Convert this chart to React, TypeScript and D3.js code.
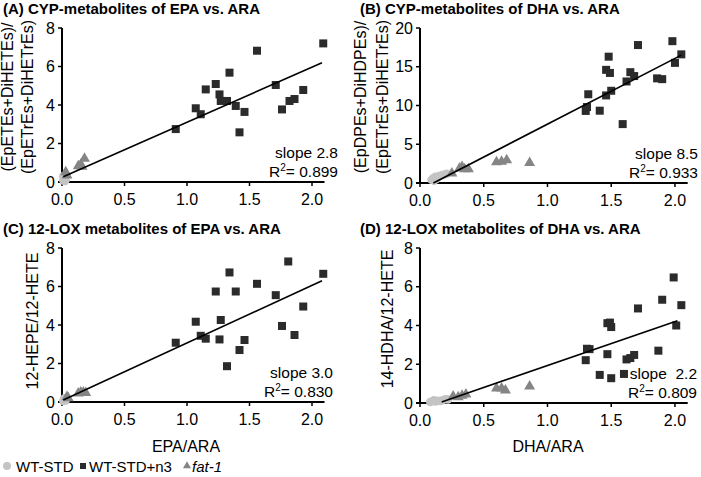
import React from "react";
import * as d3 from "d3";

type P = [number, number];

// ---------- data ----------
const xTicks = [0, 0.5, 1.0, 1.5, 2.0];
const yTicksA = [0, 2, 4, 6, 8];
const yTicksB = [0, 5, 10, 15, 20];
const yTicksC = [0, 2, 4, 6, 8];
const yTicksD = [0, 2, 4, 6, 8];

const A_std: P[] = [[0.01, 0.08], [0.02, 0.15], [0.015, 0.22], [0.025, 0.05], [0.01, 0.3], [0.03, 0.12]];
const A_n3: P[] = [[0.91, 2.75], [1.07, 3.83], [1.11, 3.52], [1.15, 4.81], [1.23, 5.09], [1.26, 4.55], [1.27, 4.21], [1.32, 4.21], [1.34, 5.68], [1.39, 3.95], [1.42, 2.58], [1.46, 3.64], [1.56, 6.82], [1.71, 5.04], [1.76, 3.77], [1.82, 4.21], [1.86, 4.31], [1.93, 4.78], [2.09, 7.2]];
const A_fat1: P[] = [[0.03, 0.52], [0.04, 0.35], [0.13, 0.83], [0.15, 0.9], [0.16, 0.8], [0.18, 1.22]];
const A_fit: P[] = [[0.01, 0.27], [2.08, 6.2]];

const B_std: P[] = [[0.09, 0.4], [0.1, 0.6], [0.11, 0.3], [0.12, 0.8], [0.13, 0.5], [0.14, 0.7], [0.15, 0.9], [0.17, 1.0], [0.19, 1.1], [0.21, 1.2]];
const B_n3: P[] = [[1.3, 9.3], [1.31, 9.8], [1.32, 11.45], [1.41, 9.33], [1.46, 14.6], [1.48, 16.3], [1.49, 14.2], [1.46, 11.3], [1.5, 11.9], [1.59, 7.6], [1.62, 13.1], [1.65, 14.3], [1.68, 13.8], [1.71, 17.8], [1.86, 13.5], [1.9, 13.4], [1.98, 18.3], [2.0, 15.5], [2.05, 16.6]];
const B_fat1: P[] = [[0.25, 1.25], [0.31, 1.9], [0.33, 2.1], [0.35, 1.8], [0.38, 1.8], [0.6, 2.7], [0.64, 2.75], [0.68, 2.96], [0.86, 2.6]];
const B_fit: P[] = [[0.105, 0], [2.05, 16.5]];

const C_std: P[] = [[0.01, 0.05], [0.02, 0.1], [0.015, 0.15], [0.03, 0.08], [0.02, 0.2]];
const C_n3: P[] = [[0.91, 3.08], [1.07, 4.17], [1.11, 3.44], [1.15, 3.29], [1.23, 5.74], [1.26, 3.25], [1.27, 4.26], [1.32, 1.86], [1.34, 6.73], [1.39, 5.74], [1.42, 2.7], [1.46, 3.22], [1.56, 6.14], [1.71, 5.55], [1.76, 3.95], [1.81, 7.3], [1.86, 3.48], [1.93, 4.96], [2.09, 6.66]];
const C_fat1: P[] = [[0.04, 0.27], [0.05, 0.2], [0.13, 0.45], [0.15, 0.5], [0.17, 0.5], [0.19, 0.48]];
const C_fit: P[] = [[0.01, 0.1], [2.08, 6.3]];

const D_std: P[] = [[0.08, 0.05], [0.1, 0.1], [0.11, 0.15], [0.12, 0.08], [0.14, 0.12], [0.16, 0.1], [0.18, 0.15], [0.2, 0.2], [0.22, 0.18]];
const D_n3: P[] = [[1.3, 2.21], [1.31, 2.8], [1.33, 2.78], [1.41, 1.45], [1.47, 4.12], [1.49, 4.15], [1.5, 3.92], [1.47, 2.52], [1.5, 1.28], [1.6, 1.5], [1.62, 2.25], [1.65, 2.32], [1.68, 2.48], [1.71, 4.88], [1.87, 2.7], [1.9, 5.33], [1.99, 6.48], [2.01, 4.0], [2.05, 5.05]];
const D_fat1: P[] = [[0.26, 0.35], [0.3, 0.3], [0.33, 0.38], [0.36, 0.45], [0.6, 0.76], [0.64, 0.76], [0.67, 0.66], [0.86, 0.86]];
const D_fit: P[] = [[0.17, 0.05], [2.02, 4.25]];

const legendLabels = ["WT-STD", "WT-STD+n3", "fat-1"];

// ---------- styles ----------
const FONT = "Liberation Sans, Arial, Helvetica, sans-serif";
const C_STD = "#c4c4c4";
const C_N3 = "#2b2b2b";
const C_FAT = "#858585";

interface PanelProps {
  title: string;
  left: number;
  right: number;
  top: number;
  bottom: number;
  yMax: number;
  yTicks: number[];
  yLabel: string[];
  yLabelX: number[];
  yLabelCY: number;
  std: P[];
  n3: P[];
  fat1: P[];
  fit: P[];
  slope: string;
  r2: string;
  statX: number;
  titleY: number;
}

const tri = d3.symbol(d3.symbolTriangle, 52)() as string;

function Panel(p: PanelProps) {
  const x = d3.scaleLinear().domain([0, 2.1]).range([p.left, p.right]);
  const y = d3.scaleLinear().domain([0, p.yMax]).range([p.bottom, p.top]);
  const line = d3.line<P>().x((d) => x(d[0])).y((d) => y(d[1]));
  return (
    <g fontFamily={FONT}>
      <text x={p.left - (p.left > 300 ? 60 : 59)} y={p.titleY} fontSize={15} fontWeight="bold">
        {p.title}
      </text>
      {/* axes */}
      <line x1={x(0)} x2={x(0)} y1={y(p.yMax)} y2={y(0)} stroke="#000" strokeWidth={2} />
      <line x1={x(0) - 4} x2={x(2.1)} y1={y(0)} y2={y(0)} stroke="#000" strokeWidth={2} />
      {p.yTicks.map((t) => (
        <g key={"y" + t}>
          <line x1={x(0) - 4} x2={x(0)} y1={y(t)} y2={y(t)} stroke="#000" strokeWidth={1.5} />
          <text x={x(0) - 7} y={y(t) + 5.5} fontSize={16} textAnchor="end">
            {t}
          </text>
        </g>
      ))}
      {xTicks.map((t) => (
        <g key={"x" + t}>
          <line x1={x(t)} x2={x(t)} y1={y(0)} y2={y(0) + 4} stroke="#000" strokeWidth={1.5} />
          <text x={x(t)} y={y(0) + 23} fontSize={16} textAnchor="middle">
            {d3.format(".1f")(t)}
          </text>
        </g>
      ))}
      {p.yLabel.map((s, i) => (
        <text
          key={s}
          transform={`translate(${p.yLabelX[i]},${p.yLabelCY}) rotate(-90)`}
          fontSize={16}
          textAnchor="middle"
        >
          {s}
        </text>
      ))}
      {/* points */}
      {p.std.map((d, i) => (
        <circle key={"s" + i} cx={x(d[0])} cy={y(d[1])} r={4.2} fill={C_STD} />
      ))}
      {p.fat1.map((d, i) => (
        <path key={"f" + i} d={tri} transform={`translate(${x(d[0])},${y(d[1])})`} fill={C_FAT} />
      ))}
      {p.n3.map((d, i) => (
        <rect key={"n" + i} x={x(d[0]) - 4} y={y(d[1]) - 4} width={8} height={8} fill={C_N3} />
      ))}
      <path d={line(p.fit) as string} stroke="#000" strokeWidth={1.6} fill="none" />
      <text x={p.statX} y={p.bottom - 24} fontSize={15.5} textAnchor="end" style={{ whiteSpace: "pre" }}>
        {p.slope}
      </text>
      <text x={p.statX} y={p.bottom - 5} fontSize={15.5} textAnchor="end">
        R<tspan fontSize={10} dy={-6}>2</tspan>
        <tspan dy={6}>= {p.r2}</tspan>
      </text>
    </g>
  );
}

export default function App() {
  return (
    <svg
      width={701}
      height={477}
      viewBox="0 0 701 477"
      style={{ position: "absolute", left: 0, top: 0, background: "#fff" }}
    >
      <rect width={701} height={477} fill="#fff" />
      <Panel
        title="(A) CYP-metabolites of EPA vs. ARA"
        left={62} right={324.5} top={28} bottom={182}
        yMax={8} yTicks={yTicksA}
        yLabel={["(EpETEs+DiHETEs)/", "(EpETrEs+DiHETrEs)"]}
        yLabelX={[13, 33]} yLabelCY={97}
        std={A_std} n3={A_n3} fat1={A_fat1} fit={A_fit}
        slope="slope 2.8" r2="0.899" statX={338} titleY={14}
      />
      <Panel
        title="(B) CYP-metabolites of DHA vs. ARA"
        left={420} right={687.7} top={28} bottom={183}
        yMax={20} yTicks={yTicksB}
        yLabel={["(EpDPEs+DiHDPEs)/", "(EpETrEs+DiHETrEs)"]}
        yLabelX={[366, 388]} yLabelCY={97}
        std={B_std} n3={B_n3} fat1={B_fat1} fit={B_fit}
        slope="slope 8.5" r2="0.933" statX={698} titleY={14}
      />
      <Panel
        title="(C) 12-LOX metabolites of EPA vs. ARA"
        left={62} right={324.5} top={248} bottom={402}
        yMax={8} yTicks={yTicksC}
        yLabel={["12-HEPE/12-HETE"]}
        yLabelX={[38]} yLabelCY={321}
        std={C_std} n3={C_n3} fat1={C_fat1} fit={C_fit}
        slope="slope 3.0" r2="0.830" statX={333} titleY={234}
      />
      <Panel
        title="(D) 12-LOX metabolites of DHA vs. ARA"
        left={420} right={687.7} top={248} bottom={403}
        yMax={8} yTicks={yTicksD}
        yLabel={["14-HDHA/12-HETE"]}
        yLabelX={[393]} yLabelCY={319}
        std={D_std} n3={D_n3} fat1={D_fat1} fit={D_fit}
        slope="slope  2.2" r2="0.809" statX={697} titleY={234}
      />
      <g fontFamily={FONT} fontSize={16}>
        <text x={186} y={452} textAnchor="middle">EPA/ARA</text>
        <text x={548} y={452} textAnchor="middle">DHA/ARA</text>
        <circle cx={7} cy={466} r={4} fill={C_STD} />
        <text x={16} y={471.5} fontSize={15}>{legendLabels[0]}</text>
        <rect x={80} y={463} width={6} height={6} fill={C_N3} />
        <text x={89} y={471.5} fontSize={15}>{legendLabels[1]}</text>
        <path d={d3.symbol(d3.symbolTriangle, 28)() as string} transform="translate(187,466)" fill={C_FAT} />
        <text x={192} y={471.5} fontSize={15} fontStyle="italic">{legendLabels[2]}</text>
      </g>
    </svg>
  );
}
